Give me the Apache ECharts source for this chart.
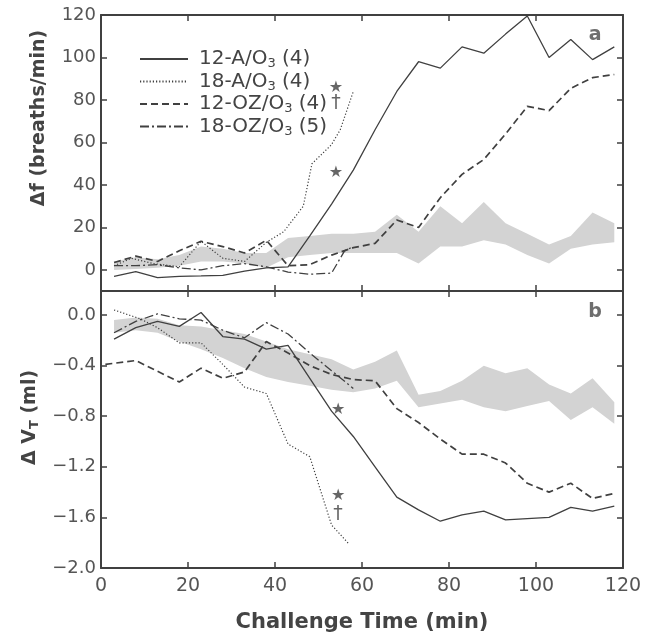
<!DOCTYPE html>
<html lang="en">
<head>
<meta charset="UTF-8">
<title>Challenge Time</title>
<script src="https://cdn.jsdelivr.net/npm/echarts@6/dist/echarts.min.js"></script>
<style>html,body{margin:0;padding:0;background:#fff}</style>
</head>
<body>
<div id="echart" style="width:647px;height:636px"></div>
<script type="text/javascript">
// ---- data ----
var names = ['12-A/O3 (4)', '18-A/O3 (4)', '12-OZ/O3 (4)', '18-OZ/O3 (5)'];
var xTicks = [0, 20, 40, 60, 80, 100, 120];
var fTicks = [0, 20, 40, 60, 80, 100, 120];
var vTicks = [-2, -1.6, -1.2, -0.8, -0.4, 0];

// panel a : delta f (breaths/min)
var fT12A = [3, 8, 13, 18, 23, 28, 33, 38, 43, 48, 53, 58, 63, 68, 73, 78, 83, 88, 93, 98, 103, 108, 113, 118];
var f12A = [-3, -0.8, -3.6, -3, -2.8, -2.5, -0.5, 1, 1.5, 16, 31, 47, 66, 84, 98, 95, 105, 102, 111, 119.5, 100, 108.5, 99, 105];
var fT18A = [3, 7, 12, 18, 23, 28, 33, 38, 42, 46.5, 48.5, 53, 55, 58];
var f18A = [2, 5.5, 3, 1.5, 13.5, 5.5, 4, 13, 18, 30, 50, 59, 66, 84];
var fT12OZ = [3, 8, 13, 18, 23, 28, 33, 38, 43, 48, 53, 58, 63, 68, 73, 78, 83, 88, 93, 98, 103, 108, 113, 118];
var f12OZ = [3.5, 6.5, 4, 9, 13.5, 11, 8, 14, 2, 2.5, 7, 10.5, 12.5, 23.5, 20, 34, 45, 52, 64, 77, 75, 85.5, 90.5, 92];
var fT18OZ = [3, 8, 13, 18, 23, 28, 33, 38, 43, 48, 53, 56, 58];
var f18OZ = [2, 2, 2.5, 1, 0, 2, 3, 1.5, -1, -2, -1.5, 9, 11];
var bandT = [3, 8, 13, 18, 23, 28, 33, 38, 43, 48, 53, 58, 63, 68, 73, 78, 83, 88, 93, 98, 103, 108, 113, 118];
var fLow = [0, 0.5, 1, 2, 4, 4, 3, 1, 6, 7, 8, 8, 8, 8, 3, 11, 11, 14, 12, 7, 3, 10, 12, 13];
var fHigh = [4, 6, 5, 7, 11, 10, 8, 8, 15, 16, 17, 17, 18, 26, 18, 30, 22, 32, 22, 17, 12, 16, 27, 22];

// panel b : delta VT (ml)
var vT12A = [3, 8, 13, 18, 23, 28, 33, 38, 43, 48, 53, 58, 63, 68, 73, 78, 83, 88, 93, 98, 103, 108, 113, 118];
var v12A = [-0.19, -0.10, -0.05, -0.09, 0.02, -0.17, -0.19, -0.27, -0.24, -0.5, -0.76, -0.96, -1.2, -1.44, -1.54, -1.63, -1.58, -1.55, -1.62, -1.61, -1.6, -1.52, -1.55, -1.51];
var vT18A = [3, 9, 13, 18, 23, 28, 33, 38, 43, 48, 53, 57];
var v18A = [0.04, -0.03, -0.1, -0.22, -0.22, -0.39, -0.57, -0.62, -1.02, -1.12, -1.66, -1.81];
var vT12OZ = [1, 8, 18, 23, 28, 33, 38, 43, 48, 53, 58, 63, 68, 73, 78, 83, 88, 93, 98, 103, 108, 113, 118];
var v12OZ = [-0.39, -0.36, -0.53, -0.42, -0.5, -0.45, -0.21, -0.3, -0.4, -0.47, -0.51, -0.52, -0.74, -0.85, -0.98, -1.1, -1.1, -1.17, -1.33, -1.40, -1.33, -1.45, -1.41];
var vT18OZ = [3, 8, 13, 18, 23, 28, 33, 38, 43, 48, 53, 58];
var v18OZ = [-0.14, -0.05, 0.01, -0.03, -0.04, -0.12, -0.18, -0.06, -0.15, -0.3, -0.44, -0.58];
var vHigh = [-0.04, -0.02, -0.03, -0.08, -0.09, -0.12, -0.15, -0.21, -0.27, -0.31, -0.35, -0.43, -0.37, -0.28, -0.63, -0.6, -0.52, -0.4, -0.46, -0.42, -0.55, -0.62, -0.5, -0.69];
var vLow = [-0.14, -0.12, -0.14, -0.21, -0.27, -0.34, -0.42, -0.49, -0.53, -0.56, -0.59, -0.61, -0.58, -0.52, -0.73, -0.7, -0.67, -0.73, -0.76, -0.72, -0.68, -0.83, -0.73, -0.86];

// significance marks [time, value, glyph]
var marksA = [[54, 85.8, '★'], [54, 78.6, '†'], [54, 45.6, '★']];
var marksB = [[54.5, -0.75, '★'], [54.5, -1.43, '★'], [54.5, -1.57, '†']];
var panelTags = [[113.6, 110.6, 'a', 0], [113.6, 0.025, 'b', 1]];

// ---- chart ----
var ink = '#404040';
var font = 'DejaVu Sans';
var styles = [
    {type: 'solid', width: 1.3},
    {type: [1.2, 2], width: 1.2},
    {type: [7, 4], width: 1.7},
    {type: [9, 3, 2, 3], width: 1.3}
];

function pairs(xs, ys) {
    return xs.map(function (x, i) { return [x, ys[i]]; });
}

function line(idx, panel, xs, ys) {
    return {
        name: names[idx], type: 'line', xAxisIndex: panel * 2, yAxisIndex: panel * 2,
        data: pairs(xs, ys), symbol: 'none', silent: true, z: 3,
        itemStyle: {color: 'rgba(0,0,0,0)'},
        lineStyle: {color: ink, type: styles[idx].type, width: styles[idx].width}
    };
}

// grey range band drawn as one polygon through the axes
function band(panel, lows, highs) {
    return {
        type: 'custom', xAxisIndex: panel * 2, yAxisIndex: panel * 2, silent: true, z: 1,
        data: bandT.map(function (t, i) { return [t, lows[i], highs[i]]; }),
        encode: {x: 0, y: [1, 2]},
        renderItem: function (params, api) {
            if (params.dataIndexInside !== 0) return null;
            var n = params.dataInsideLength, top = [], bottom = [];
            for (var j = 0; j < n; j++) {
                top.push(api.coord([api.value(0, j), api.value(2, j)]));
                bottom.unshift(api.coord([api.value(0, j), api.value(1, j)]));
            }
            return {type: 'polygon', shape: {points: top.concat(bottom)}, style: {fill: '#d3d3d3'}};
        }
    };
}

function marks(panel, list) {
    return {
        type: 'scatter', xAxisIndex: panel * 2, yAxisIndex: panel * 2, symbolSize: 0, silent: true, z: 4,
        data: list,
        label: {
            show: true, position: 'inside',
            formatter: function (p) { return p.data[2] === '★' ? '{s|★}' : '{d|†}'; },
            rich: {
                s: {fontSize: 16, color: ink, fontFamily: font},
                d: {fontSize: 19, color: ink, fontFamily: font}
            }
        }
    };
}

var tickStyle = {inside: true, length: 6, lineStyle: {color: ink, width: 1.5}};
var axLine = {show: true, onZero: false, lineStyle: {color: ink, width: 2}};

function xAx(grid, pos, labels) {
    return {
        type: 'value', gridIndex: grid, position: pos, min: 0, max: 120,
        axisLine: axLine, splitLine: {show: false},
        axisTick: Object.assign({customValues: xTicks}, tickStyle),
        axisLabel: {show: labels, customValues: xTicks, margin: 9, fontSize: 19, color: '#555', fontFamily: font},
        name: labels ? 'Challenge Time (min)' : '', nameLocation: 'middle', nameGap: 44,
        nameTextStyle: {fontSize: 21, fontWeight: 'bold', color: '#444', fontFamily: font}
    };
}

function yAx(grid, pos, labels, min, max, ticks, fmt, name, pad, gap) {
    return {
        type: 'value', gridIndex: grid, position: pos, min: min, max: max,
        axisLine: axLine, splitLine: {show: false},
        axisTick: Object.assign({customValues: ticks}, tickStyle),
        axisLabel: {show: labels, customValues: ticks, margin: 5, fontSize: 18, color: '#555',
            fontFamily: font, formatter: fmt},
        name: labels ? name : '', nameLocation: 'middle', nameGap: gap,
        nameTextStyle: {fontSize: 19, fontWeight: 'bold', color: '#444', fontFamily: font,
            padding: [0, 0, 0, pad],
            rich: {sub: {fontSize: 13, fontWeight: 'bold', color: '#444', fontFamily: font, padding: [9, 0, 0, 0]}}}
    };
}

var fmtF = function (v) { return String(v); };
var fmtV = function (v) { return (v < 0 ? '\u2212' : '') + Math.abs(v).toFixed(1); };

var series = [
    band(0, fLow, fHigh),
    band(1, vLow, vHigh),
    line(0, 0, fT12A, f12A), line(1, 0, fT18A, f18A), line(2, 0, fT12OZ, f12OZ), line(3, 0, fT18OZ, f18OZ),
    line(0, 1, vT12A, v12A), line(1, 1, vT18A, v18A), line(2, 1, vT12OZ, v12OZ), line(3, 1, vT18OZ, v18OZ),
    marks(0, marksA), marks(1, marksB)
];

panelTags.forEach(function (t) {
    series.push({
        type: 'scatter', xAxisIndex: t[3] * 2, yAxisIndex: t[3] * 2, symbolSize: 0, silent: true,
        data: [[t[0], t[1], t[2]]],
        label: {show: true, position: 'inside', formatter: function (p) { return p.data[2]; },
            fontSize: 19, fontWeight: 'bold', color: '#4a4a4a', fontFamily: font}
    });
});

var myEchart = echarts.init(document.getElementById('echart'));
var option = {
    animation: false,
    backgroundColor: '#fff',
    grid: [
        {left: 101, top: 15, width: 522, height: 276},
        {left: 101, top: 291, width: 522, height: 277}
    ],
    xAxis: [xAx(0, 'bottom', false), xAx(0, 'top', false), xAx(1, 'bottom', true), xAx(1, 'top', false)],
    yAxis: [
        yAx(0, 'left', true, -9.9, 120, fTicks, fmtF, '\u0394f (breaths/min)', 70, 52),
        yAx(0, 'right', false, -9.9, 120, fTicks, fmtF, '', 0, 0),
        yAx(1, 'left', true, -2, 0.19, vTicks, fmtV, '\u0394 V{sub|T} (ml)', 24, 56),
        yAx(1, 'right', false, -2, 0.19, vTicks, fmtV, '', 0, 0)
    ],
    legend: {
        data: names, left: 134, top: 44, orient: 'vertical', itemWidth: 48, itemHeight: 14, itemGap: 1,
        selectedMode: false,
        itemStyle: {color: 'rgba(0,0,0,0)', borderWidth: 0},
        formatter: function (n) { return n.replace('O3', 'O{sub|3}'); },
        textStyle: {fontSize: 20, color: '#444', fontFamily: font, padding: [0, 0, 0, 6],
            rich: {sub: {fontSize: 13, color: '#444', fontFamily: font, padding: [10, 0, 0, 0]}}}
    },
    series: series
};
myEchart.setOption(option);
</script>
</body>
</html>
